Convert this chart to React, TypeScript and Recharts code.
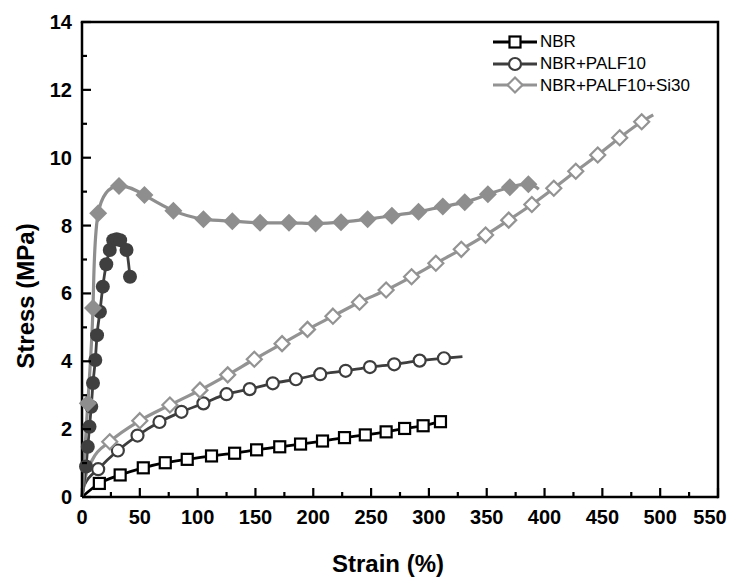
import React from "react";
import { LineChart, Line, XAxis, YAxis, Label } from "recharts";

// NBR (hollow squares)
const nbrStrain = [0, 15, 33, 53, 72, 91, 112, 132, 151, 171, 189, 208, 227, 245, 263, 279, 295, 310];
const nbrStress = [0, 0.4, 0.65, 0.86, 1.01, 1.11, 1.21, 1.29, 1.39, 1.48, 1.56, 1.65, 1.75, 1.83, 1.92, 2.02, 2.1, 2.22];

// NBR+PALF10 (hollow circles)
const palfStrain = [0, 2, 14, 31, 48, 67, 86, 105, 125, 145, 165, 185, 206, 228, 249, 270, 292, 313, 329];
const palfStress = [0, 0.35, 0.82, 1.37, 1.81, 2.21, 2.51, 2.76, 3.03, 3.18, 3.35, 3.47, 3.62, 3.72, 3.83, 3.91, 4.02, 4.09, 4.14];

// NBR+PALF10+Si30 (hollow diamonds)
const siStrain = [0, 3, 9, 24, 50, 76, 102, 126, 149, 173, 195, 217, 240, 263, 285, 306, 328, 349, 369, 389, 408, 427, 446, 465, 484, 494];
const siStress = [0, 0.6, 1.1, 1.63, 2.25, 2.71, 3.15, 3.6, 4.06, 4.52, 4.94, 5.33, 5.74, 6.1, 6.49, 6.89, 7.3, 7.72, 8.16, 8.62, 9.1, 9.6, 10.08, 10.59, 11.06, 11.26];

// filled circles
const palfBStrain = [0, 3.5, 5, 6.5, 8, 9.5, 11.5, 13, 15.5, 18, 21, 24, 27, 30, 33, 38.5, 41.5];
const palfBStress = [0, 0.9, 1.48, 2.07, 2.66, 3.36, 4.04, 4.77, 5.46, 6.2, 6.86, 7.28, 7.57, 7.6, 7.57, 7.28, 6.49];

// filled diamonds
const siBStrain = [0, 5, 9.5, 14, 32, 54, 79, 105, 130, 154, 179, 202, 224, 247, 268, 291, 312, 331, 351, 370, 386, 395];
const siBStress = [0, 2.76, 5.57, 8.36, 9.17, 8.9, 8.44, 8.19, 8.13, 8.08, 8.08, 8.06, 8.1, 8.19, 8.29, 8.41, 8.56, 8.69, 8.92, 9.13, 9.22, 9.07];

const xTicks = [0, 25, 50, 75, 100, 125, 150, 175, 200, 225, 250, 275, 300, 325, 350, 375, 400, 425, 450, 475, 500, 525, 550];
const yTicks = [0, 1, 2, 3, 4, 5, 6, 7, 8, 9, 10, 11, 12, 13, 14];
const X_MAX = 550;
const Y_MAX = 14;

const legendNames = ["NBR", "NBR+PALF10", "NBR+PALF10+Si30"];
const legendShapes = ["square", "circle", "diamond"];
const legendColors = ["#000000", "#3d3d3d", "#939393"];

const FONT = "'Liberation Sans', Arial, sans-serif";
const W = 720;
const H = 569;
const MARGIN = { top: 14, right: 10, bottom: 0, left: 0 };
const Y_AXIS_W = 74;
const X_AXIS_H = 80;

// plot box
const PL = MARGIN.left + Y_AXIS_W;
const PT = MARGIN.top;
const PR = W - MARGIN.right;
const PB = H - X_AXIS_H;

const toPoints = (xs: number[], ys: number[]) => xs.map((x, i) => ({ x, y: ys[i] }));

function Marker({ shape, cx, cy, color, filled }: any) {
  const fill = filled ? color : "#fff";
  if (shape === "square") {
    return <rect x={cx - 5.5} y={cy - 5.5} width={11} height={11} fill={fill} stroke={color} strokeWidth={2.2} />;
  }
  if (shape === "circle") {
    const r = filled ? 7 : 6;
    return <circle cx={cx} cy={cy} r={r} fill={fill} stroke={color} strokeWidth={filled ? 0 : 2.2} />;
  }
  const h = filled ? 9 : 7.5;
  return (
    <polygon
      points={`${cx},${cy - h} ${cx + h},${cy} ${cx},${cy + h} ${cx - h},${cy}`}
      fill={fill}
      stroke={color}
      strokeWidth={filled ? 0 : 2.2}
    />
  );
}

// only draw markers between first and last index
const makeDot = (shape: string, color: string, filled: boolean, first: number, last: number) => (props: any) => {
  const { cx, cy, index } = props;
  if (cx == null || cy == null || index < first || index > last) return <g key={index} />;
  return (
    <g key={index}>
      <Marker shape={shape} cx={cx} cy={cy} color={color} filled={filled} />
    </g>
  );
};

function XTick({ x, y, payload }: any) {
  if (payload.value % 50 !== 0) return <g />;
  // keep the last label inside the drawing area
  const tx = Math.min(x, W - 18);
  return (
    <text x={tx} y={y + 20} textAnchor="middle" dominantBaseline="central" fontFamily={FONT} fontWeight="bold" fontSize={20} fill="#000">
      {payload.value}
    </text>
  );
}

function YTick({ x, y, payload }: any) {
  if (payload.value % 2 !== 0) return <g />;
  return (
    <text x={x - 10} y={y} textAnchor="end" dominantBaseline="central" fontFamily={FONT} fontWeight="bold" fontSize={20} fill="#000">
      {payload.value}
    </text>
  );
}

// box frame and inward tick marks, overlaid on the chart
function FrameOverlay() {
  const sx = (v: number) => PL + (v / X_MAX) * (PR - PL);
  const sy = (v: number) => PB - (v / Y_MAX) * (PB - PT);
  return (
    <svg width={W} height={H} style={{ position: "absolute", left: 0, top: 0, pointerEvents: "none" }}>
      <path d={`M${PL - 1.25},${PT} L${PR},${PT} L${PR},${PB + 1.25}`} fill="none" stroke="#000" strokeWidth={2.5} />
      {xTicks.map((v) => (
        <line key={`x${v}`} x1={sx(v)} x2={sx(v)} y1={PB} y2={PB - (v % 50 === 0 ? 9 : 5)} stroke="#000" strokeWidth={2.2} />
      ))}
      {yTicks.map((v) => (
        <line key={`y${v}`} x1={PL} x2={PL + (v % 2 === 0 ? 9 : 5)} y1={sy(v)} y2={sy(v)} stroke="#000" strokeWidth={2.2} />
      ))}
    </svg>
  );
}

function LegendBox() {
  return (
    <div style={{ position: "absolute", left: 485, top: 23, fontFamily: FONT, fontSize: 17, lineHeight: "21.8px" }}>
      {legendNames.map((name, i) => (
        <div key={name} style={{ display: "flex", alignItems: "center", height: 21.8 }}>
          <svg width={46} height={20} style={{ display: "block" }}>
            <line x1={0} x2={44} y1={10} y2={10} stroke={legendColors[i]} strokeWidth={3} />
            <Marker shape={legendShapes[i]} cx={22} cy={10} color={legendColors[i]} filled={false} />
          </svg>
          <span style={{ marginLeft: 1, color: "#000" }}>{name}</span>
        </div>
      ))}
    </div>
  );
}

export default function App() {
  return (
    <div style={{ position: "relative", width: W, height: H }}>
      <LineChart width={W} height={H} margin={MARGIN}>
        <XAxis
          type="number"
          dataKey="x"
          domain={[0, X_MAX]}
          ticks={xTicks}
          interval={0}
          height={X_AXIS_H}
          tickSize={0}
          tickMargin={0}
          tickLine={false}
          tick={<XTick />}
          axisLine={{ stroke: "#000", strokeWidth: 2.5 }}
        >
          <Label
            content={({ viewBox }: any) => (
              <text x={viewBox.x + viewBox.width / 2 - 12} y={viewBox.y + 66} textAnchor="middle" dominantBaseline="central" fontFamily={FONT} fontWeight="bold" fontSize={24} fill="#000">
                Strain (%)
              </text>
            )}
          />
        </XAxis>
        <YAxis
          type="number"
          domain={[0, Y_MAX]}
          ticks={yTicks}
          interval={0}
          width={Y_AXIS_W}
          tickSize={0}
          tickMargin={0}
          tickLine={false}
          tick={<YTick />}
          axisLine={{ stroke: "#000", strokeWidth: 2.5 }}
        >
          <Label
            content={({ viewBox }: any) => (
              <text
                x={17}
                y={viewBox.y + 274}
                transform={`rotate(-90 17 ${viewBox.y + 274})`}
                textAnchor="middle"
                dominantBaseline="central"
                fontFamily={FONT}
                fontWeight="bold"
                fontSize={24}
                fill="#000"
              >
                Stress (MPa)
              </text>
            )}
          />
        </YAxis>

        <Line data={toPoints(nbrStrain, nbrStress)} dataKey="y" type="monotone" stroke="#000000" strokeWidth={2.8}
          dot={makeDot("square", "#000000", false, 1, nbrStrain.length - 1)} activeDot={false} isAnimationActive={false} />
        <Line data={toPoints(palfStrain, palfStress)} dataKey="y" type="monotone" stroke="#3d3d3d" strokeWidth={2.8}
          dot={makeDot("circle", "#3d3d3d", false, 2, palfStrain.length - 2)} activeDot={false} isAnimationActive={false} />
        <Line data={toPoints(siStrain, siStress)} dataKey="y" type="monotone" stroke="#939393" strokeWidth={3.2}
          dot={makeDot("diamond", "#939393", false, 3, siStrain.length - 2)} activeDot={false} isAnimationActive={false} />
        <Line data={toPoints(palfBStrain, palfBStress)} dataKey="y" type="monotone" stroke="#3f3f3f" strokeWidth={2.8}
          dot={makeDot("circle", "#3f3f3f", true, 1, palfBStrain.length - 1)} activeDot={false} isAnimationActive={false} />
        <Line data={toPoints(siBStrain, siBStress)} dataKey="y" type="natural" stroke="#8e8e8e" strokeWidth={3.2}
          dot={makeDot("diamond", "#8e8e8e", true, 1, siBStrain.length - 2)} activeDot={false} isAnimationActive={false} />
      </LineChart>
      <FrameOverlay />
      <LegendBox />
    </div>
  );
}
